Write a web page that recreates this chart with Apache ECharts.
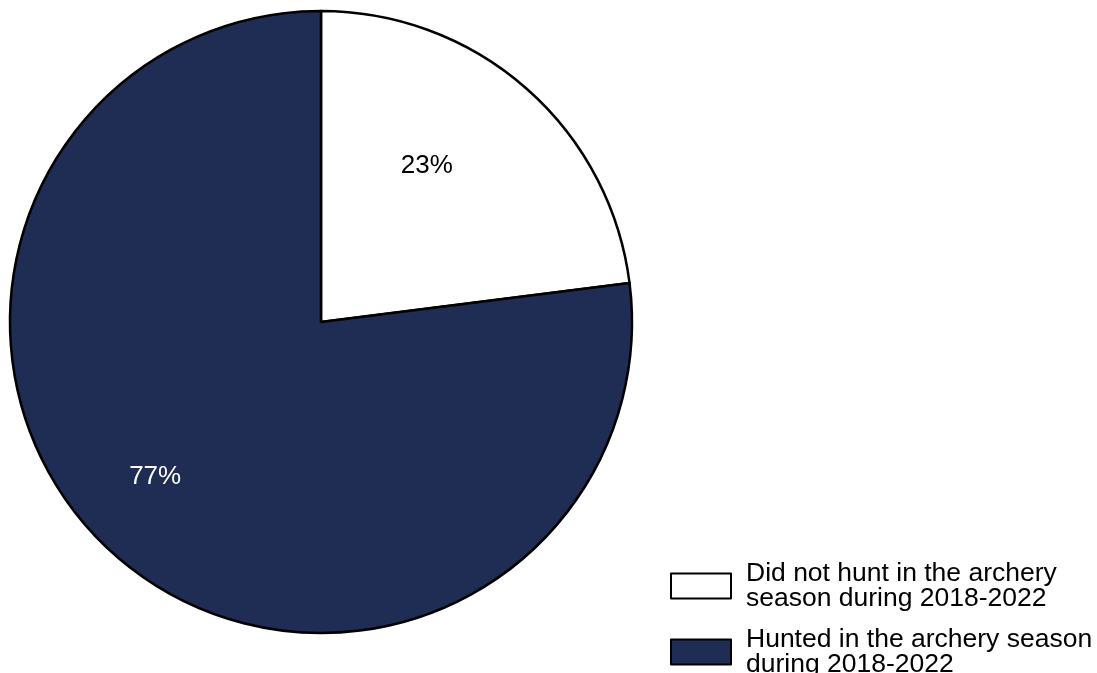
<!DOCTYPE html>
<html>
<head>
<meta charset="utf-8">
<script src="https://cdn.jsdelivr.net/npm/echarts@6/dist/echarts.min.js"></script>
<style>html,body{margin:0;padding:0;background:#fff}#c{width:1097px;height:673px}</style>
</head>
<body>
<div id="c"></div>
<script>
const categories = ['Did not hunt in the archery\nseason during 2018-2022', 'Hunted in the archery season\nduring 2018-2022'];
const values = [23, 77];
const colors = ['#ffffff', '#1f2c53'];
const labelColors = ['#000000', '#ffffff'];
const labelShift = [[1, -37], [-61, 36]];

const chart = echarts.init(document.getElementById('c'), null, {renderer: 'canvas'});
chart.setOption({
  animation: false,
  backgroundColor: '#ffffff',
  legend: {
    orient: 'vertical',
    left: 665,
    top: 555,
    height: 200,
    padding: 5,
    itemWidth: 60,
    itemHeight: 25,
    itemGap: 14,
    icon: 'rect',
    itemStyle: {borderColor: '#000', borderWidth: 2},
    textStyle: {fontFamily: 'Liberation Sans, Arial, sans-serif', fontSize: 26.5, lineHeight: 25, color: '#000', padding: [0, 0, 0, 10]},
    data: categories
  },
  series: [{
    type: 'pie',
    center: [321, 322],
    radius: 311,
    startAngle: 90,
    clockwise: true,
    silent: true,
    itemStyle: {borderColor: '#000', borderWidth: 2.5},
    label: {
      show: true,
      position: 'inside',
      formatter: '{d}%',
      fontFamily: 'Liberation Sans, Arial, sans-serif',
      fontSize: 26
    },
    labelLayout: function (p) {
      const s = labelShift[p.dataIndex];
      return {dx: s[0], dy: s[1]};
    },
    data: categories.map((n, i) => ({
      name: n,
      value: values[i],
      itemStyle: {color: colors[i]},
      label: {color: labelColors[i]}
    }))
  }]
});
</script>
</body>
</html>
